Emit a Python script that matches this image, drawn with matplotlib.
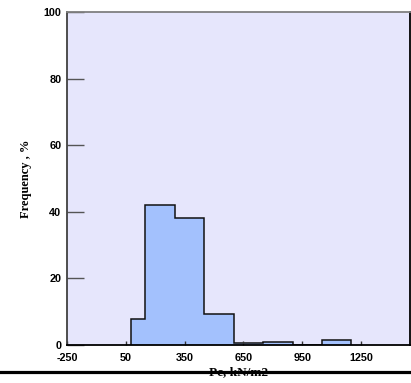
import numpy as np
from matplotlib import pyplot as plt
from matplotlib.lines import Line2D

# bin edges (kN/m2) and frequency (%)
bin_edges = [75, 150, 300, 450, 600, 750, 900, 1050, 1200]
frequency = [7.8, 42, 38, 9.2, 0.5, 0.9, 0, 1.4]
x_ticks = [-250, 50, 350, 650, 950, 1250]
y_ticks = [0, 20, 40, 60, 80, 100]

fig = plt.figure(figsize=(4.11, 3.83), dpi=100)
ax = fig.add_axes([0.163, 0.099, 0.835, 0.870])
ax.set_facecolor('#e6e6fc')

ax.stairs(frequency, bin_edges, fill=True, color='#a3c1fd')
ax.stairs(frequency, bin_edges, color='#111111', linewidth=1.1, baseline=0)

ax.set_xlim(-250, 1500)
ax.set_ylim(0, 100)
ax.set_xticks(x_ticks)
ax.set_yticks(y_ticks)

tick_font = dict(family='Liberation Sans', weight='bold', size=7.8)
ax.set_xticklabels([str(v) for v in x_ticks], **tick_font)
ax.set_yticklabels([str(v) for v in y_ticks], **tick_font)
ax.tick_params(axis='x', direction='in', length=3, width=1, pad=6, colors='#333333', labelcolor='black')
ax.tick_params(axis='y', direction='in', length=12, width=1.0, pad=4, colors='#555555', labelcolor='black')

ax.spines['top'].set_color('#808080')
ax.spines['left'].set_color('#404040')
ax.spines['right'].set_color('black')
ax.spines['bottom'].set_color('black')
for s in ax.spines.values():
    s.set_linewidth(1.3)

ax.set_ylabel('Frequency , %', family='Liberation Serif', weight='bold', size=9, labelpad=8)

# heavy rule across the bottom, with the x label sitting on it
fig.add_artist(Line2D([0, 1], [0.028, 0.028], color='black', linewidth=2.3))
fig.text(0.58, 0.028, 'Pc, kN/m2', family='Liberation Serif', weight='bold', size=9.5,
         ha='center', va='center')

plt.savefig('out.png', dpi=100)
